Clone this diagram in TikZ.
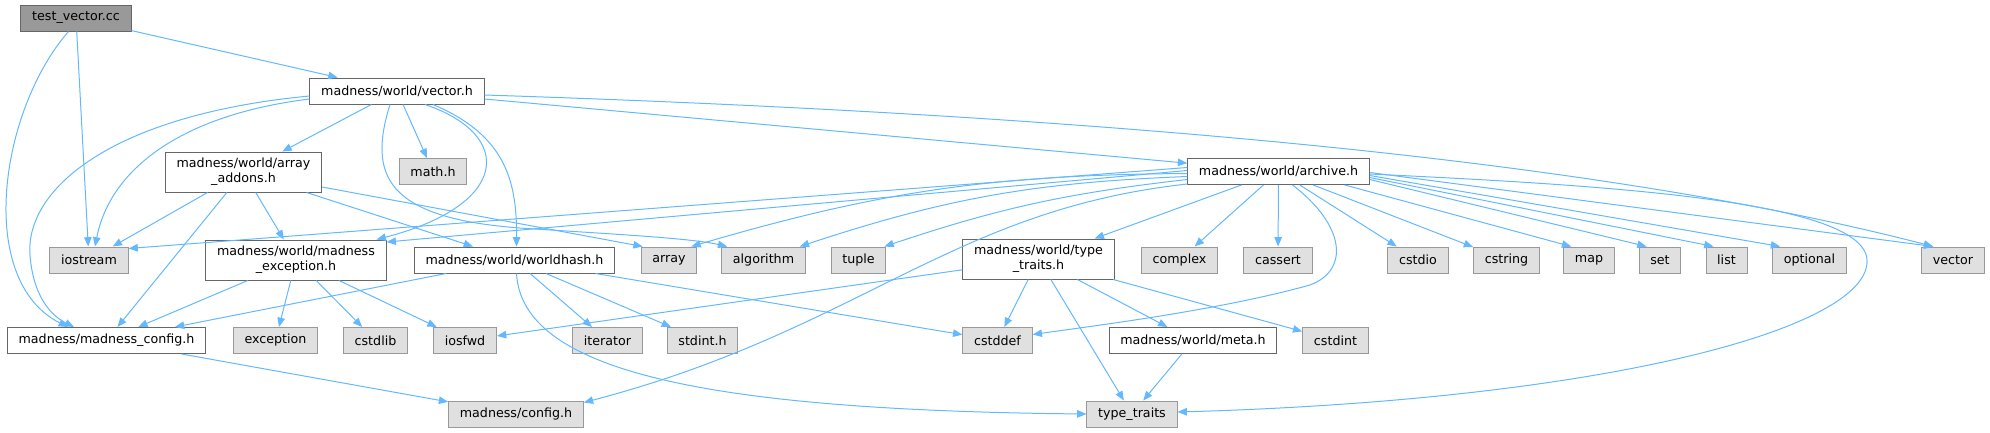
\documentclass[tikz,border=0pt]{standalone}
\usepackage{fontspec}
\setmainfont{DejaVu Sans}
\usepackage{tikz}
\usetikzlibrary{arrows.meta,calc}
\definecolor{dxedge}{HTML}{63B8FF}
\definecolor{dxframe}{HTML}{666666}
\definecolor{dxgrey}{HTML}{E0E0E0}
\definecolor{dxgreyframe}{HTML}{999999}
\definecolor{dxroot}{HTML}{999999}
\tikzset{
  >={Triangle[length=7pt,width=5.6pt]},
  % filer
  hf/.style={draw=dxframe,fill=white,line width=0.75pt,inner xsep=8.4pt,inner ysep=0pt,
             minimum height=19.5pt,font=\fontsize{9.5}{11.3}\selectfont},
  hs/.style={hf,draw=dxgreyframe,fill=dxgrey},
  hroot/.style={hf,fill=dxroot},
  two/.style={align=center,minimum height=30pt},
  % beroenden
  inc/.style={->,draw=dxedge,line width=0.75pt},
}

\begin{document}
\begin{tikzpicture}[x=0.75pt,y=-0.75pt]
  \useasboundingbox (0,0) rectangle (1990,432);
  % rad 1-2
  \node[hroot] (tv) at (76,18) {test\_vector.cc};
  \node[hf] (vech) at (397,91) {madness/world/vector.h};
  \node[hf,two] (aadd) at (243.5,172) {madness/world/array\\\_addons.h};
  \node[hs] (smath) at (433,171.5) {math.h};
  \node[hf] (arch) at (1278.5,171.5) {madness/world/archive.h};
  % rad 3
  \node[hs] (sios) at (89,260) {iostream};
  \node[hf,two] (mexc) at (296,260) {madness/world/madness\\\_exception.h};
  \node[hf] (whash) at (514.5,260) {madness/world/worldhash.h};
  \node[hs] (sarr) at (669,260) {array};
  \node[hs] (salgo) at (763.5,260) {algorithm};
  \node[hs] (stup) at (858.5,260) {tuple};
  \node[hf,two] (ttrh) at (1038.5,259) {madness/world/type\\\_traits.h};
  \node[hs] (scplx) at (1179.5,260) {complex};
  \node[hs] (scass) at (1278,260) {cassert};
  \node[hs] (scstdio) at (1418,260) {cstdio};
  \node[hs] (scstring) at (1506.5,260) {cstring};
  \node[hs] (smap) at (1589,260) {map};
  \node[hs] (sset) at (1660,260) {set};
  \node[hs] (slist) at (1726.5,260) {list};
  \node[hs] (sopt) at (1809.5,260) {optional};
  \node[hs] (svec) at (1953,260) {vector};
  % rad 4-5
  \node[hf] (mconf) at (106.5,340.5) {madness/madness\_config.h};
  \node[hs] (sexc) at (275.5,340.5) {exception};
  \node[hs] (scstdlib) at (375.5,340.5) {cstdlib};
  \node[hs] (siosfwd) at (465,340.5) {iosfwd};
  \node[hs] (siter) at (607.5,340.5) {iterator};
  \node[hs] (sstdint) at (702.5,340.5) {stdint.h};
  \node[hs] (scstddef) at (997.5,340.5) {cstddef};
  \node[hf] (meta) at (1193,340.5) {madness/world/meta.h};
  \node[hs] (scstdint) at (1335.5,340.5) {cstdint};
  \node[hs] (cfg) at (516,414) {madness/config.h};
  \node[hs] (stt) at (1132,414) {type\_traits};

  % test_vector.cc
  \draw[inc] (tv) -- (vech);
  \draw[inc] (tv) -- (sios);
  \draw[inc] ($(tv.south west)+(48,0)$) .. controls (0,110) and (-25,280) .. ($(mconf.north west)+(61,0)$);
  % vector.h
  \draw[inc] (vech) -- (aadd);
  \draw[inc] (vech) -- (smath);
  \draw[inc] ($(vech.east)+(0,8)$) -- (arch);
  \draw[inc] ($(vech.east)+(0,4)$) .. controls (1100,115) and (1600,160) .. ($(svec.north west)+(12,0)$);
  \draw[inc] ($(vech.west)+(0,5)$) .. controls (110,115) and (25,190) .. (30,255)
    .. controls (33,295) and (50,315) .. ($(mconf.north west)+(67,0)$);
  \draw[inc] ($(vech.west)+(0,8)$) .. controls (180,115) and (110,170) .. ($(sios.north)+(6,0)$);
  \draw[inc] ($(vech.south)+(-7,0)$) .. controls (368,175) and (385,218) .. (520,228)
    .. controls (610,234) and (690,238) .. ($(salgo.north west)+(6,0)$);
  \draw[inc] ($(vech.south)+(28,0)$) .. controls (515,135) and (510,205) .. ($(mexc.north east)+(-10,0)$);
  \draw[inc] ($(vech.south)+(36,0)$) .. controls (505,135) and (517,180) .. ($(whash.north)+(2,0)$);
  % array_addons.h
  \draw[inc] (aadd) -- (sios);
  \draw[inc] (aadd) -- (mconf);
  \draw[inc] (aadd) -- (mexc);
  \draw[inc] (aadd) -- (whash);
  \draw[inc] ($(aadd.east)+(0,15)$) -- ($(sarr.north west)+(2,0)$);
  % archive.h
  \draw[inc] ($(arch.west)+(0,-4)$) -- ($(sios.north east)+(0,2)$);
  \draw[inc] ($(arch.west)+(0,-1)$) -- ($(mexc.east)+(0,-18)$);
  \draw[inc] ($(arch.west)+(0,2)$) to[bend right=8] ($(sarr.north east)+(-6,0)$);
  \draw[inc] ($(arch.west)+(0,5)$) to[bend right=8] ($(salgo.north east)+(-6,0)$);
  \draw[inc] ($(arch.west)+(0,8)$) to[bend right=6] ($(stup.north east)+(-2,0)$);
  \draw[inc] ($(arch.south west)+(0,-1)$) .. controls (950,210) and (860,330) .. ($(cfg.north east)+(0,2)$);
  \draw[inc] (arch) -- (ttrh);
  \draw[inc] (arch) -- (scplx);
  \draw[inc] (arch) -- (scass);
  \draw[inc] ($(arch.south)+(14,0)$) .. controls (1345,225) and (1350,270) .. (1310,285)
    .. controls (1220,310) and (1100,325) .. ($(scstddef.east)+(0,-6)$);
  \draw[inc] (arch) -- (scstdio);
  \draw[inc] (arch) -- (scstring);
  \draw[inc] ($(arch.south east)+(-25,0)$) -- ($(smap.north west)+(8,0)$);
  \draw[inc] ($(arch.east)+(0,8)$) -- ($(sset.north west)+(8,0)$);
  \draw[inc] ($(arch.east)+(0,6)$) -- ($(slist.north west)+(8,0)$);
  \draw[inc] ($(arch.east)+(0,4)$) -- ($(sopt.north west)+(8,0)$);
  \draw[inc] ($(arch.east)+(0,1)$) -- ($(svec.north west)+(12,0)$);
  \draw[inc] ($(arch.east)+(0,2.5)$) .. controls (1600,185) and (1870,200) .. (1867,262)
    .. controls (1865,330) and (1600,400) .. ($(stt.east)+(0,-2)$);
  % madness_exception.h
  \draw[inc] (mexc) -- (mconf);
  \draw[inc] (mexc) -- (sexc);
  \draw[inc] (mexc) -- (scstdlib);
  \draw[inc] (mexc) -- (siosfwd);
  % worldhash.h
  \draw[inc] (whash) -- (mconf);
  \draw[inc] (whash) -- (siter);
  \draw[inc] (whash) -- (sstdint);
  \draw[inc] (whash) -- (scstddef);
  \draw[inc] ($(whash.south)+(2,0)$) .. controls (522,370) and (700,410) .. (stt.west);
  % type_traits.h, meta.h, madness_config.h
  \draw[inc] (ttrh) -- (siosfwd);
  \draw[inc] (ttrh) -- (scstddef);
  \draw[inc] (ttrh) -- (stt);
  \draw[inc] (ttrh) -- (meta);
  \draw[inc] (ttrh) -- (scstdint);
  \draw[inc] (meta) -- (stt);
  \draw[inc] (mconf) -- (cfg);
\end{tikzpicture}
\end{document}
